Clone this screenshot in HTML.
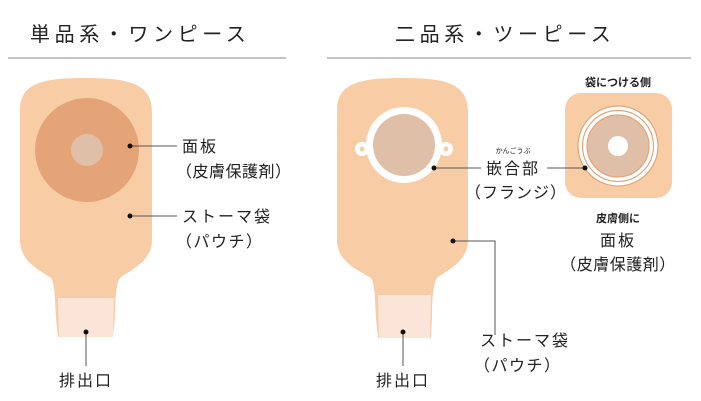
<!DOCTYPE html>
<html><head><meta charset="utf-8"><style>
html,body{margin:0;padding:0;background:#fff;width:701px;height:401px;overflow:hidden}
svg{display:block}
text{font-family:"Liberation Sans","Noto Sans CJK JP",sans-serif;fill:#222}
</style></head><body>
<svg width="701" height="401" viewBox="0 0 701 401" xmlns="http://www.w3.org/2000/svg">
<text x="30" y="41" font-size="20" letter-spacing="4.6">単品系・ワンピース</text>
<text x="395" y="41" font-size="20" letter-spacing="4.6">二品系・ツーピース</text>
<rect x="8" y="57" width="278" height="2" fill="#c4c4c4"/>
<rect x="327" y="57" width="364" height="2" fill="#c4c4c4"/>

<path d="M20,110 C20,82 45,78 86,78 C130,78 152,84 152,112 L152,240 C152,262 130,270 120,278 C116,284 115,300 115,318 L113,337 L58,337 L56,318 C55,300 55,284 51,278 C40,270 20,262 20,240 Z" fill="#f8cda6"/>
<path d="M58,298 L114,298 L113,337 L59,337 Z" fill="#fae5d8"/>
<circle cx="87" cy="150" r="52" fill="#e4a477"/>
<circle cx="87" cy="150" r="16" fill="#e0bfa8"/>
<g stroke="#555" stroke-width="1" fill="none">
<line x1="130" y1="146" x2="177" y2="146"/>
<line x1="130" y1="216" x2="177" y2="216"/>
<line x1="86" y1="332" x2="86" y2="366"/>
</g>
<g fill="#111"><circle cx="130" cy="146" r="2.5"/><circle cx="130" cy="216" r="2.5"/><circle cx="86" cy="332" r="2.5"/></g>
<text x="182" y="152" font-size="16" letter-spacing="2">面板</text>
<text x="176" y="177" font-size="16" letter-spacing="0.5">（皮膚保護剤）</text>
<text x="182" y="222" font-size="16" letter-spacing="2">ストーマ袋</text>
<text x="176" y="247" font-size="16" letter-spacing="1.5">（パウチ）</text>
<text x="86" y="386" font-size="16" letter-spacing="2" text-anchor="middle">排出口</text>

<path d="M337,110 C337,82 362,78 403,78 C447,78 468,84 468,112 L468,240 C468,262 447,270 437,278 C433,284 432,300 432,318 L431,338 L378,338 L376,318 C375,300 375,284 371,278 C358,270 337,262 337,240 Z" fill="#f8cda6"/>
<path d="M378,295 L431,295 L430,338 L379,338 Z" fill="#fae5d8"/>
<circle cx="362" cy="149" r="7" fill="#fff"/><circle cx="446" cy="149" r="7" fill="#fff"/>
<circle cx="362" cy="149" r="2.5" fill="#f8cda6"/><circle cx="446" cy="149" r="2.5" fill="#f8cda6"/>
<circle cx="404" cy="145" r="38" fill="#fff"/>
<circle cx="404" cy="145" r="31" fill="#e0bfa8"/>

<rect x="565" y="93" width="107" height="105" rx="16" fill="#f8cda6"/>
<circle cx="618" cy="146" r="40" fill="#fff" stroke="#e4a477" stroke-width="1.2"/>
<circle cx="618" cy="146" r="35.5" fill="#fff" stroke="#e4a477" stroke-width="1.2"/>
<circle cx="618" cy="146" r="31" fill="#e0bfa8" stroke="#e4a477" stroke-width="1.2"/>
<circle cx="618" cy="146" r="10" fill="#fff"/>

<g stroke="#555" stroke-width="1" fill="none">
<line x1="434" y1="168" x2="481" y2="168"/>
<line x1="547" y1="168" x2="585" y2="168"/>
<polyline points="453,241 495,241 495,335"/>
<line x1="403" y1="332" x2="403" y2="366"/>
</g>
<g fill="#111"><circle cx="434" cy="168" r="2.5"/><circle cx="585" cy="168" r="2.5"/><circle cx="453" cy="241" r="2.5"/><circle cx="403" cy="332" r="2.5"/></g>
<text x="513" y="153" font-size="7" text-anchor="middle">かんごうぶ</text>
<text x="513" y="174" font-size="16" letter-spacing="2" text-anchor="middle">嵌合部</text>
<text x="516" y="198" font-size="16" letter-spacing="1" text-anchor="middle">（フランジ）</text>
<text x="618" y="86" font-size="11" text-anchor="middle" font-weight="bold">袋につける側</text>
<text x="618" y="222" font-size="11" text-anchor="middle" font-weight="bold">皮膚側に</text>
<text x="618" y="246" font-size="16" letter-spacing="2" text-anchor="middle">面板</text>
<text x="618" y="270" font-size="16" letter-spacing="0.5" text-anchor="middle">（皮膚保護剤）</text>
<text x="480" y="346" font-size="16" letter-spacing="2">ストーマ袋</text>
<text x="474" y="371" font-size="16" letter-spacing="1.5">（パウチ）</text>
<text x="403" y="386" font-size="16" letter-spacing="2" text-anchor="middle">排出口</text>
</svg>
</body></html>
